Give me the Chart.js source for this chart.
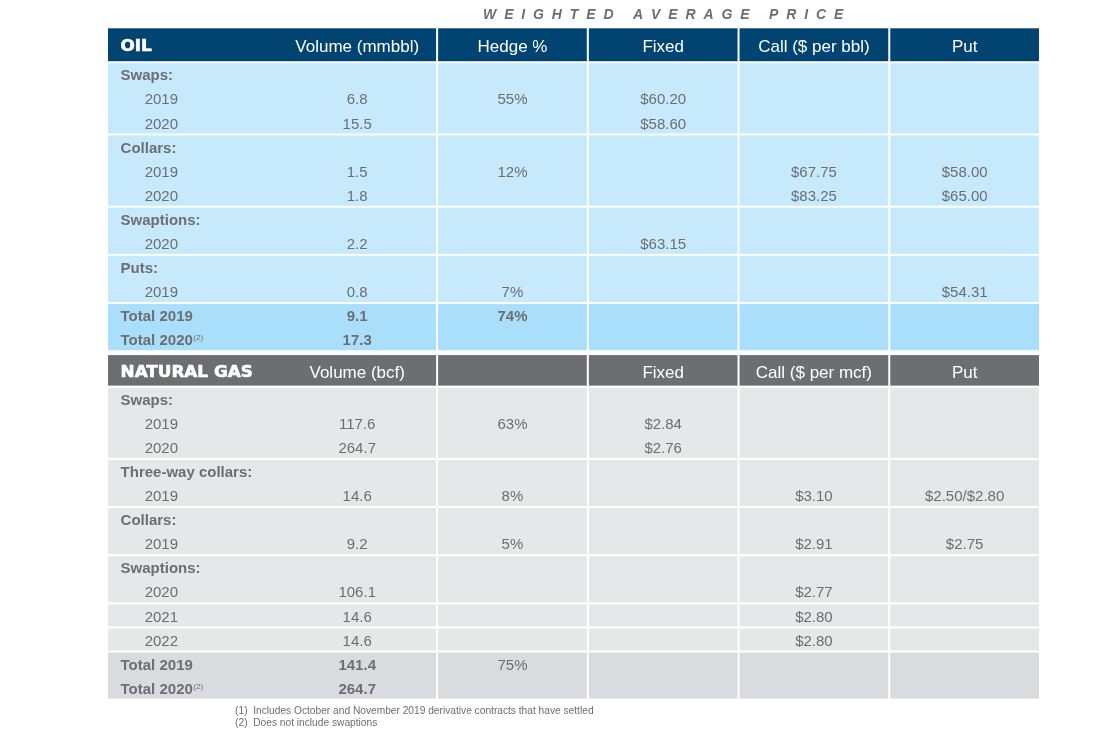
<!DOCTYPE html>
<html>
<head>
<meta charset="utf-8">
<script src="https://cdn.jsdelivr.net/npm/chart.js@4/dist/chart.umd.min.js"></script>
<style>
  html, body { margin: 0; padding: 0; background: #ffffff; }
  #c { display: block; }
</style>
</head>
<body>
<canvas id="c" width="1106" height="731"></canvas>
<script>
// ---------------- DATA ----------------
const titleText = "WEIGHTED AVERAGE PRICE";

const oilHeaders = ["OIL", "Volume (mmbbl)", "Hedge %", "Fixed", "Call ($ per bbl)", "Put"];
const oilRowLabels = ["Swaps:", "2019", "2020", "Collars:", "2019", "2020", "Swaptions:", "2020", "Puts:", "2019", "Total 2019", "Total 2020^(2)"];
const oilGroupSizes = [3, 3, 2, 2, 2];
const oilVolume = [null, 6.8, 15.5, null, 1.5, 1.8, null, 2.2, null, 0.8, 9.1, 17.3];
const oilHedge  = [null, 55, null, null, 12, null, null, null, null, 7, 74, null];
const oilFixed  = [null, 60.20, 58.60, null, null, null, null, 63.15, null, null, null, null];
const oilCall   = [null, null, null, null, 67.75, 83.25, null, null, null, null, null, null];
const oilPut    = [null, null, null, null, 58.00, 65.00, null, null, null, 54.31, null, null];

const gasHeaders = ["NATURAL GAS", "Volume (bcf)", "", "Fixed", "Call ($ per mcf)", "Put"];
const gasRowLabels = ["Swaps:", "2019", "2020", "Three-way collars:", "2019", "Collars:", "2019", "Swaptions:", "2020", "2021", "2022", "Total 2019", "Total 2020^(2)"];
const gasGroupSizes = [3, 2, 2, 2, 1, 1, 2];
const gasVolume = [null, 117.6, 264.7, null, 14.6, null, 9.2, null, 106.1, 14.6, 14.6, 141.4, 264.7];
const gasHedge  = [null, 63, null, null, 8, null, 5, null, null, null, null, 75, null];
const gasFixed  = [null, 2.84, 2.76, null, null, null, null, null, null, null, null, null, null];
const gasCall   = [null, null, null, null, 3.10, null, 2.91, null, 2.77, 2.80, 2.80, null, null];
const gasPut    = [null, null, null, null, [2.50, 2.80], null, 2.75, null, null, null, null, null, null];

const footnotes = [["(1)", "Includes October and November 2019 derivative contracts that have settled"],
                   ["(2)", "Does not include swaptions"]];

// ---------------- LAYOUT / STYLE ----------------
const colBounds = [0, 2.19, 3.19, 4.19, 5.19, 6.19];   // column boundaries (x scale units)
const labelX = 0.09, indentX = 0.25, volumeX = 1.66;
const layoutUnits = { oilHeader: 1.45, spacer: 0.12, gasHeader: 1.35 };
const textColor = "#6d6e71";
const FONT = "'Liberation Sans', Arial, sans-serif";

const sections = [
  { headers: oilHeaders, labels: oilRowLabels, groups: oilGroupSizes,
    cols: [oilVolume, oilHedge, oilFixed, oilCall, oilPut],
    headerH: layoutUnits.oilHeader, headerColor: "#014472", bodyColor: "#c6eafc",
    totalColor: "#aadffc", totalHedgeBold: true },
  { headers: gasHeaders, labels: gasRowLabels, groups: gasGroupSizes,
    cols: [gasVolume, gasHedge, gasFixed, gasCall, gasPut],
    headerH: layoutUnits.gasHeader, headerColor: "#6d6e71", bodyColor: "#e6e7e8",
    totalColor: "#d9dcdf", totalHedgeBold: false }
];

const totalUnits = layoutUnits.oilHeader + oilRowLabels.length + layoutUnits.spacer +
                   layoutUnits.gasHeader + gasRowLabels.length;

function fmtMoney(v) {
  if (v === null) return "";
  if (Array.isArray(v)) return v.map(x => "$" + x.toFixed(2)).join("/");
  return "$" + v.toFixed(2);
}

const tablePlugin = {
  id: 'tablePlugin',
  afterDraw(chart) {
    const ctx = chart.ctx;
    const xs = chart.scales.x, ys = chart.scales.y;
    const X = v => xs.getPixelForValue(v);
    const Y = v => ys.getPixelForValue(v);
    ctx.save();

    function rect(x0, x1, y0, y1, color) {
      const px0 = X(x0) + 1, px1 = X(x1) - 1;
      const py0 = Y(y0) + 1, py1 = Y(y1) - 1;
      ctx.fillStyle = color;
      ctx.fillRect(px0, py0, px1 - px0, py1 - py0);
    }
    function text(str, x, y, font, color, align) {
      ctx.font = font;
      ctx.fillStyle = color;
      ctx.textAlign = align || 'center';
      ctx.textBaseline = 'middle';
      ctx.fillText(str, x, y);
    }
    function heavyText(str, x, y) {
      ctx.save();
      ctx.translate(x, y);
      ctx.scale(1.12, 1);
      ctx.font = "bold 15px 'DejaVu Sans', sans-serif";
      ctx.fillStyle = "#ffffff";
      ctx.strokeStyle = "#ffffff";
      ctx.lineWidth = 0.6;
      ctx.textAlign = 'left';
      ctx.textBaseline = 'middle';
      ctx.fillText(str, 0, 0);
      ctx.strokeText(str, 0, 0);
      ctx.restore();
    }

    // Title with letter spacing
    {
      ctx.font = "italic bold 14px " + FONT;
      ctx.fillStyle = textColor;
      ctx.textBaseline = 'middle';
      ctx.textAlign = 'left';
      const chars = titleText.split("");
      const natural = chars.reduce((s, ch) => s + ctx.measureText(ch).width, 0);
      const target = X(3.69 + 1.195) - X(3.69 - 1.195);
      const sp = (target - natural) / (chars.length - 1);
      let cx = X(3.69) - target / 2;
      const ty = Y(-0.51);
      chars.forEach(ch => { ctx.fillText(ch, cx, ty); cx += ctx.measureText(ch).width + sp; });
    }

    let cursor = 0;
    sections.forEach((sec, si) => {
      if (si > 0) cursor += layoutUnits.spacer;
      // header row
      const h0 = cursor, h1 = cursor + sec.headerH;
      rect(colBounds[0], colBounds[1], h0, h1, sec.headerColor);
      for (let c = 1; c < 5; c++) rect(colBounds[c], colBounds[c + 1], h0, h1, sec.headerColor);
      const hy = Y((h0 + h1) / 2) + 1;
      heavyText(sec.headers[0], X(labelX), hy + 1.5);
      text(sec.headers[1], X(volumeX), hy + 1.5, "17px " + FONT, "#ffffff");
      for (let c = 2; c < 6; c++) {
        if (sec.headers[c]) text(sec.headers[c], X((colBounds[c - 1] + colBounds[c]) / 2), hy + 1.5, "17px " + FONT, "#ffffff");
      }
      cursor = h1;

      // group cells
      let r = 0;
      sec.groups.forEach((g, gi) => {
        const isTotal = gi === sec.groups.length - 1;
        const color = isTotal ? sec.totalColor : sec.bodyColor;
        for (let c = 0; c < 5; c++) rect(colBounds[c], colBounds[c + 1], cursor + r, cursor + r + g, color);
        r += g;
      });

      // row texts
      r = 0;
      sec.groups.forEach((g, gi) => {
        const isTotal = gi === sec.groups.length - 1;
        for (let k = 0; k < g; k++) {
          const i = r + k;
          const yc = Y(cursor + i + 0.5) + 2;
          const raw = sec.labels[i];
          const parts = raw.split("^");
          const lab = parts[0];
          const isHead = lab.endsWith(":") || isTotal;
          const lf = (isHead ? "bold " : "") + "15px " + FONT;
          const lx = isHead ? X(labelX) : X(indentX);
          text(lab, lx, yc, lf, textColor, 'left');
          if (parts[1]) {
            ctx.font = lf;
            const w = ctx.measureText(lab).width;
            text(parts[1], lx + w + 0.5, yc - 3, "8px " + FONT, textColor, 'left');
          }
          const vf = (isTotal ? "bold " : "") + "15px " + FONT;
          const vol = sec.cols[0][i];
          if (vol !== null) text(vol.toFixed(1), X(volumeX), yc, vf, textColor);
          const hed = sec.cols[1][i];
          if (hed !== null) text(hed + "%", X((colBounds[1] + colBounds[2]) / 2), yc,
                                 ((isTotal && sec.totalHedgeBold) ? "bold " : "") + "15px " + FONT, textColor);
          for (let c = 2; c < 5; c++) {
            const v = sec.cols[c][i];
            if (v !== null) text(fmtMoney(v), X((colBounds[c] + colBounds[c + 1]) / 2), yc, "15px " + FONT, textColor);
          }
        }
        r += g;
      });
      cursor += sec.labels.length;
    });

    // footnotes
    footnotes.forEach((fn, i) => {
      const fy = Y(totalUnits + 0.46 + i * 0.51);
      text(fn[0], X(0.85), fy, "10.2px " + FONT, textColor, 'left');
      text(fn[1], X(0.97), fy, "10.2px " + FONT, textColor, 'left');
    });
    ctx.restore();
  }
};

new Chart(document.getElementById('c'), {
  type: 'scatter',
  data: { datasets: [{ data: [], pointRadius: 0 }] },
  options: {
    responsive: false,
    devicePixelRatio: 1,
    animation: false,
    layout: { padding: { left: 107, right: 66, top: 27.3, bottom: 31.3 } },
    plugins: { legend: { display: false }, tooltip: { enabled: false } },
    scales: {
      x: { type: 'linear', min: colBounds[0], max: colBounds[colBounds.length - 1], display: false },
      y: { type: 'linear', min: 0, max: totalUnits, reverse: true, display: false }
    }
  },
  plugins: [tablePlugin]
});
</script>
</body>
</html>
